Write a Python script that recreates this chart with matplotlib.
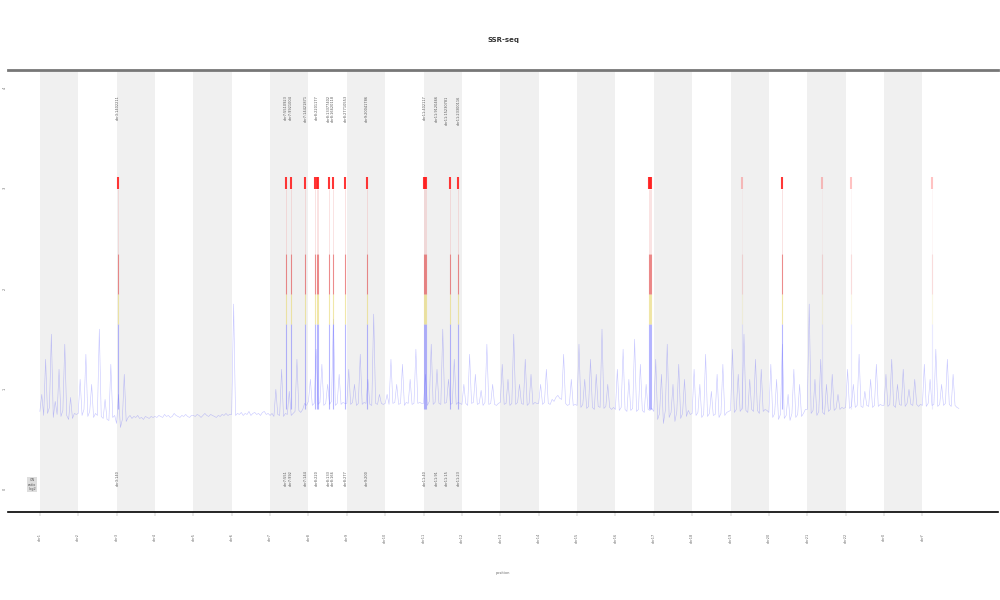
import numpy as np
import matplotlib
matplotlib.use('Agg')
import matplotlib.pyplot as plt

# segment (chromosome) names along x
segmentos = ['chr1', 'chr2', 'chr3', 'chr4', 'chr5', 'chr6', 'chr7', 'chr8',
             'chr9', 'chr10', 'chr11', 'chr12', 'chr13', 'chr14', 'chr15', 'chr16',
             'chr17', 'chr18', 'chr19', 'chr20', 'chr21', 'chr22', 'chrX', 'chrY']

# signal, 20 values per segment
sinal = [
    0.78, 0.95, 0.74, 1.30, 0.76, 0.82, 1.55, 0.72, 0.88, 0.75, 1.20, 0.73, 0.79, 1.45, 0.74, 0.70, 0.92, 0.71, 0.76, 0.75,
    0.76, 1.10, 0.74, 0.80, 1.35, 0.73, 0.78, 1.05, 0.72, 0.76, 0.74, 1.60, 0.73, 0.71, 0.90, 0.70, 0.69, 1.25, 0.72, 0.74,
    0.66, 0.95, 0.62, 0.70, 1.15, 0.68, 0.72, 0.74, 0.71, 0.73, 0.72, 0.74, 0.71, 0.72, 0.70, 0.73, 0.72, 0.71, 0.73, 0.72,
    0.73, 0.72, 0.74, 0.73, 0.72, 0.75, 0.73, 0.74, 0.72, 0.73, 0.76, 0.74, 0.73, 0.72, 0.74, 0.73, 0.75, 0.73, 0.72, 0.74,
    0.74, 0.73, 0.75, 0.74, 0.72, 0.74, 0.76, 0.74, 0.73, 0.75, 0.74, 0.73, 0.72, 0.74, 0.73, 0.75, 0.74, 0.76, 0.74, 0.75,
    0.75, 1.85, 0.74, 0.76, 0.75, 0.77, 0.74, 0.76, 0.75, 0.78, 0.74, 0.76, 0.77, 0.75, 0.76, 0.74, 0.77, 0.78, 0.75, 0.76,
    0.74, 0.76, 0.73, 1.00, 0.75, 0.74, 1.20, 0.73, 0.76, 0.75, 0.98, 0.74, 0.76, 0.78, 1.30, 0.79, 0.77, 0.80, 0.86, 0.84,
    0.88, 1.10, 0.84, 0.86, 1.40, 0.85, 0.87, 1.25, 0.84, 0.86, 1.05, 0.85, 0.88, 1.70, 0.84, 0.86, 1.15, 0.85, 0.87, 0.86,
    0.86, 1.20, 0.85, 0.87, 1.05, 0.84, 0.86, 1.35, 0.85, 0.87, 0.86, 1.10, 0.85, 0.84, 1.75, 0.86, 0.85, 0.95, 0.86, 0.85,
    0.86, 0.95, 0.85, 1.30, 0.86, 0.87, 1.05, 0.85, 0.86, 1.25, 0.84, 0.87, 0.86, 1.10, 0.85, 0.86, 1.40, 0.86, 0.87, 0.86,
    0.86, 1.15, 0.84, 0.88, 1.45, 0.85, 0.87, 1.20, 0.86, 0.85, 1.60, 0.86, 0.87, 1.10, 0.85, 0.86, 1.30, 0.85, 0.87, 0.86,
    0.85, 1.05, 0.86, 0.84, 1.35, 0.86, 0.87, 1.15, 0.85, 0.86, 0.99, 0.84, 0.87, 1.45, 0.85, 0.86, 1.05, 0.85, 0.84, 0.86,
    0.87, 1.25, 0.85, 0.86, 1.10, 0.84, 0.86, 1.55, 0.85, 0.87, 1.05, 0.86, 0.85, 1.30, 0.84, 0.86, 1.15, 0.85, 0.87, 0.86,
    0.86, 1.05, 0.85, 0.87, 1.20, 0.86, 0.85, 0.90, 0.88, 0.92, 0.94, 0.91, 0.90, 1.35, 0.86, 0.84, 0.85, 1.10, 0.84, 0.85,
    0.84, 1.45, 0.82, 0.85, 1.10, 0.81, 0.83, 1.30, 0.82, 0.80, 1.15, 0.83, 0.82, 1.60, 0.81, 0.83, 1.05, 0.82, 0.80, 0.82,
    0.80, 1.20, 0.79, 0.82, 1.40, 0.80, 0.78, 1.10, 0.79, 0.81, 1.50, 0.78, 0.80, 1.25, 0.79, 0.77, 1.05, 0.80, 0.79, 0.81,
    0.78, 1.30, 0.70, 0.76, 1.15, 0.66, 0.79, 1.45, 0.72, 0.77, 1.05, 0.68, 0.78, 1.25, 0.71, 0.76, 1.10, 0.73, 0.79, 0.75,
    0.76, 1.20, 0.74, 0.77, 1.05, 0.72, 0.75, 1.35, 0.73, 0.76, 0.98, 0.74, 0.75, 1.15, 0.72, 0.76, 1.25, 0.74, 0.77, 0.78,
    0.79, 1.40, 0.77, 0.80, 1.15, 0.78, 0.81, 1.55, 0.79, 0.77, 1.10, 0.80, 0.78, 1.30, 0.79, 0.76, 1.20, 0.78, 0.80, 0.79,
    0.77, 1.25, 0.72, 0.76, 1.10, 0.70, 0.75, 1.45, 0.71, 0.74, 0.95, 0.69, 0.76, 1.20, 0.72, 0.75, 1.05, 0.73, 0.76, 0.80,
    0.80, 1.85, 0.76, 0.79, 1.10, 0.74, 0.78, 1.30, 0.77, 0.75, 1.05, 0.78, 0.80, 1.15, 0.79, 0.81, 0.95, 0.80, 0.82, 0.81,
    0.82, 1.20, 0.81, 0.83, 1.05, 0.82, 0.84, 1.35, 0.83, 0.82, 0.98, 0.84, 0.83, 1.10, 0.82, 0.84, 1.25, 0.83, 0.85, 0.84,
    0.84, 1.15, 0.83, 0.85, 1.30, 0.84, 0.82, 1.05, 0.85, 0.84, 1.20, 0.83, 0.86, 1.00, 0.85, 0.84, 1.10, 0.85, 0.83, 0.85,
    0.84, 1.25, 0.83, 0.86, 1.10, 0.84, 0.85, 1.40, 0.83, 0.85, 1.05, 0.84, 0.86, 1.30, 0.85, 0.83, 1.15, 0.84, 0.82, 0.81,
]

# outliers: strong ones (reach the red marker) and faint ones
outliers_fortes = [2.03, 6.42, 6.54, 6.92, 7.17, 7.21, 7.25, 7.53, 7.64, 7.96, 8.52,
                   10.01, 10.04, 10.07, 10.68, 10.91, 15.87, 15.90, 15.93, 19.35]
outliers_fracos = [18.31, 20.39, 21.15, 23.26]
# labelled outliers (text at top and bottom)
rotulo_pos = [2.03, 6.42, 6.54, 6.92, 7.21, 7.53, 7.64, 7.96, 8.52,
              10.04, 10.34, 10.61, 10.91]
rotulo_txt = ['chr3:1402211', 'chr7:5510923', 'chr7:9921004', 'chr7:14421871',
              'chr8:2201177', 'chr8:13377402', 'chr8:16620118', 'chr8:27710553',
              'chr9:20041786', 'chr11:402117', 'chr11:9120466',
              'chr11:15230781', 'chr11:23300116']

n_seg = len(segmentos)
pts = len(sinal) // n_seg

fig = plt.figure(figsize=(10, 6), dpi=100)
ax = fig.add_axes([0.008, 0.147, 0.99, 0.736])

for k in range(0, n_seg, 2):
    ax.axvspan(k, k + 1, color='#f0f0f0', lw=0, zorder=0)

x = np.concatenate([k + np.linspace(0, 1, pts, endpoint=False) for k in range(n_seg)])
ax.plot(x, sinal, color='#3030ff', lw=0.4, alpha=0.28, zorder=2)

def desenha_outlier(p, forca):
    ax.vlines(p, 0.8, 1.65, color='#7070ff', lw=0.8, alpha=0.5 * forca, zorder=3)
    ax.vlines(p, 1.65, 1.95, color='#e8d870', lw=0.8, alpha=0.6 * forca, zorder=3)
    ax.vlines(p, 1.95, 2.35, color='#e04040', lw=0.8, alpha=0.6 * forca, zorder=3)
    ax.vlines(p, 2.35, 3.0, color='#f0a0a0', lw=0.6, alpha=0.35 * forca, zorder=3)
    ax.vlines(p, 3.0, 3.12, color='#ff2020', lw=1.5, alpha=0.9 * forca, zorder=3)

for p in outliers_fortes:
    desenha_outlier(p, 1.0)
for p in outliers_fracos:
    desenha_outlier(p, 0.3)

for p, t in zip(rotulo_pos, rotulo_txt):
    ax.text(p, 3.93, t, rotation=90, fontsize=2.5, color='#555555', ha='center', va='top', zorder=4)
    ax.text(p, 0.2, t[:8], rotation=90, fontsize=2.5, color='#555555', ha='center', va='top', zorder=4)

ax.text(-0.2, 0.05, 'CN\nratio\nlog2', fontsize=2.5, color='#555555', ha='center', va='center',
        bbox=dict(facecolor='#dddddd', edgecolor='none', pad=0.5))

ax.set_xlim(-0.83, 24.97)
ax.set_ylim(-0.22, 4.18)
ax.set_xticks(range(n_seg))
ax.set_xticklabels(segmentos, rotation=90, fontsize=2.5, color='#666666')
ax.set_yticks([0, 1, 2, 3, 4])
ax.set_yticklabels(['0', '1', '2', '3', '4'], rotation=90, fontsize=2.5, color='#666666')
ax.tick_params(axis='x', length=3, width=0.3, color='#999999', pad=12)
ax.tick_params(axis='y', length=0, pad=1)
ax.set_xlabel('position', fontsize=2.5, color='#666666', labelpad=20)
ax.set_title('SSR-seq', fontsize=5, fontweight='bold', color='#333333', pad=20)

for lado in ['left', 'right']:
    ax.spines[lado].set_visible(False)
ax.spines['top'].set_color('#777777')
ax.spines['top'].set_linewidth(2)
ax.spines['bottom'].set_color('black')
ax.spines['bottom'].set_linewidth(1.2)

fig.savefig('out.png', dpi=100)
